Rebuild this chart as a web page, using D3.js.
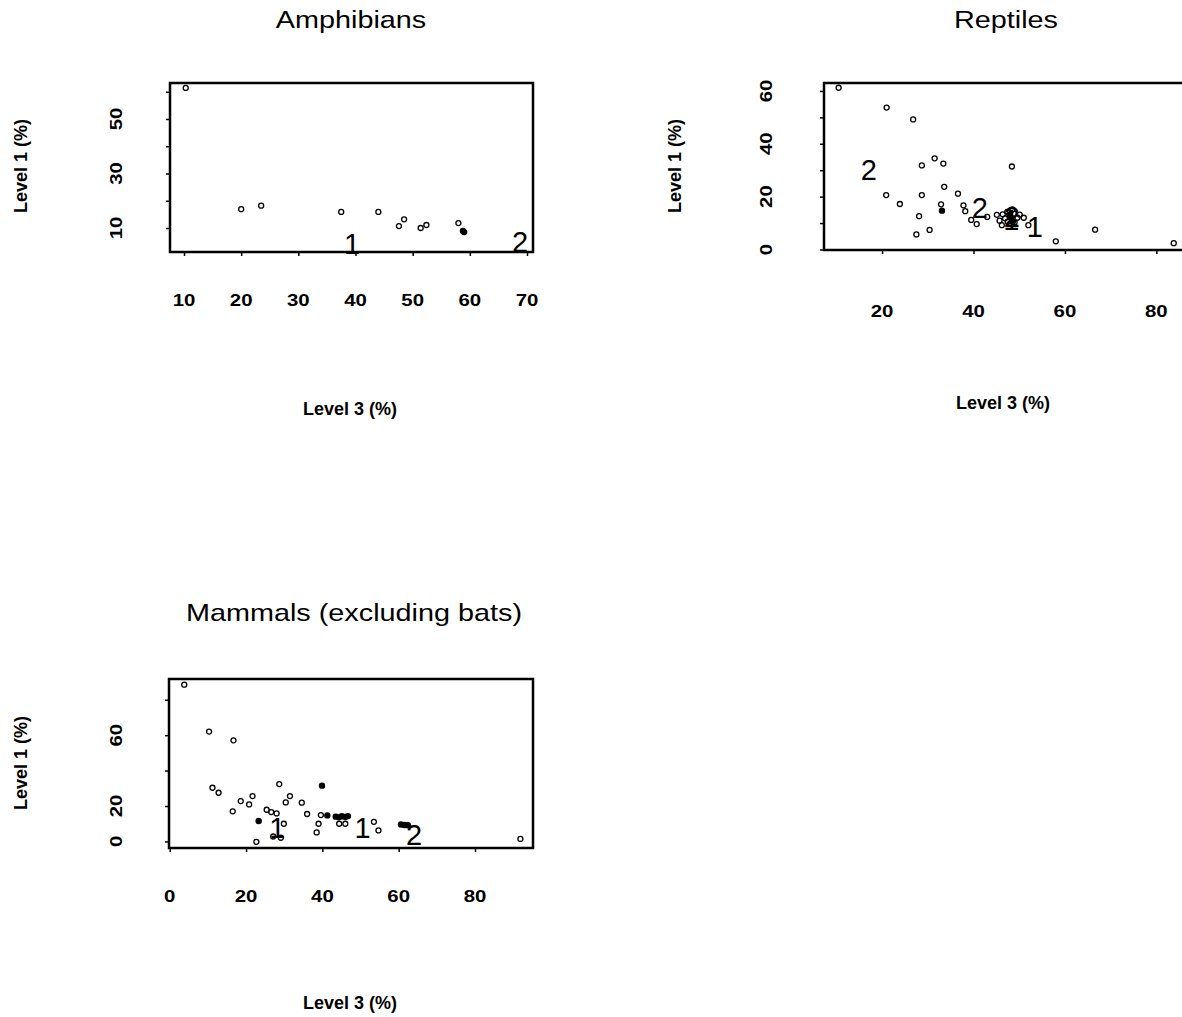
<!DOCTYPE html>
<html>
<head>
<meta charset="utf-8">
<script src="https://cdn.jsdelivr.net/npm/d3@7"></script>
<style>
  html, body { margin: 0; padding: 0; background: #fff; }
  svg { display: block; }
  text { font-family: "Liberation Sans", Arial, Helvetica, sans-serif; fill: #000; }
</style>
</head>
<body>
<svg id="chart" width="1182" height="1017"></svg>
<script>
// ---------------- DATA ----------------
// Amphibians
const amphL3 = [10.3, 20.0, 23.5, 37.5, 44.0, 47.6, 48.5, 51.4, 52.4, 58.0];
const amphL1 = [61.4, 16.9, 18.2, 15.9, 15.9, 10.7, 13.2, 10.0, 11.1, 11.8];
const amphL3Filled = [58.8, 59.0];
const amphL1Filled = [8.9, 8.5];
const amphLabelText = ["1", "2"];
const amphLabelL3 = [39.4, 68.8];
const amphLabelL1 = [4.5, 5.0];
const amphXTicks = [10, 20, 30, 40, 50, 60, 70];
const amphYTicks = [10, 20, 30, 40, 50, 60];
const amphYTickLabels = [10, 30, 50];

// Reptiles
const reptL3 = [10.5, 21.0, 26.8, 31.5, 28.7, 33.4, 48.4, 33.6, 20.9, 28.7, 36.6, 23.9, 32.9,
  37.8, 38.2, 28.1, 39.5, 40.7, 43.0, 45.1, 45.7, 46.2, 51.0, 52.0, 27.5, 30.4, 58.0, 66.6, 83.8,
  46.4, 46.9, 47.4, 47.9, 48.5, 49.0, 49.6, 50.1, 47.5, 49.0];
const reptL1 = [61.2, 53.7, 49.2, 34.5, 31.8, 32.5, 31.4, 23.7, 20.6, 20.6, 21.1, 17.2, 17.1,
  16.7, 14.5, 12.6, 11.2, 9.6, 12.3, 13.1, 10.9, 9.2, 12.0, 9.2, 5.7, 7.4, 3.1, 7.5, 2.4,
  13.3, 11.8, 14.2, 12.8, 15.2, 13.5, 12.0, 13.2, 10.5, 10.2];
const reptL3Filled = [33.1, 48.0, 48.6];
const reptL1Filled = [14.7, 12.5, 10.5];
const reptLabelText = ["2", "2", "2", "1", "1"];
const reptLabelL3 = [17.1, 41.4, 48.4, 48.3, 53.4];
const reptLabelL1 = [30.2, 15.7, 12.6, 11.2, 8.8];
const reptXTicks = [20, 40, 60, 80];
const reptYTicks = [0, 10, 20, 30, 40, 50, 60];
const reptYTickLabels = [0, 20, 40, 60];

// Mammals (excluding bats)
const mammL3 = [3.8, 10.3, 16.7, 11.2, 12.8, 16.5, 18.6, 20.8, 21.7, 22.7, 25.4, 26.6, 28.0,
  28.7, 30.4, 31.5, 29.9, 27.1, 29.1, 34.6, 36.0, 38.5, 39.0, 39.6, 44.4, 46.0, 53.5, 54.7, 91.9];
const mammL1 = [88.5, 62.0, 57.1, 30.3, 27.5, 17.0, 22.8, 20.9, 25.6, -0.2, 17.9, 16.6, 15.8,
  32.4, 22.0, 25.6, 10.0, 2.8, 2.1, 21.9, 15.5, 5.1, 10.0, 14.9, 10.0, 10.0, 11.1, 6.2, 1.4];
const mammL3Filled = [23.3, 39.9, 41.3, 43.5, 44.3, 45.1, 46.0, 46.7, 60.6, 61.5, 62.4];
const mammL1Filled = [11.5, 31.5, 14.7, 14.0, 13.6, 14.2, 13.8, 14.3, 9.6, 9.3, 9.1];
const mammLabelText = ["1", "1", "2"];
const mammLabelL3 = [28.2, 50.5, 64.0];
const mammLabelL1 = [7.6, 7.6, 3.8];
const mammXTicks = [0, 20, 40, 60, 80];
const mammYTicks = [0, 20, 40, 60, 80];
const mammYTickLabels = [0, 20, 60];

const titles = ["Amphibians", "Reptiles", "Mammals (excluding bats)"];
const xAxisTitle = "Level 3 (%)";
const yAxisTitle = "Level 1 (%)";

// ---------------- DRAW ----------------
const svg = d3.select("#chart");

const panels = [
  {
    title: titles[0],
    x: amphL3, y: amphL1, xf: amphL3Filled, yf: amphL1Filled,
    lt: amphLabelText, lx: amphLabelL3, ly: amphLabelL1,
    xTicks: amphXTicks, yTicks: amphYTicks, yTickLabels: amphYTickLabels,
    xDomain: [7.55, 71.05], yDomain: [1.2, 63.2],
    left: 170, right: 533, top: 83, bottom: 252,
    titleX: 351, titleY: 28,
    xTickLabelY: 306, yTickLabelX: 116,
    xTitleX: 350, xTitleY: 415, yTitleX: 21, yTitleY: 166
  },
  {
    title: titles[1],
    x: reptL3, y: reptL1, xf: reptL3Filled, yf: reptL1Filled,
    lt: reptLabelText, lx: reptLabelL3, ly: reptLabelL1,
    xTicks: reptXTicks, yTicks: reptYTicks, yTickLabels: reptYTickLabels,
    xDomain: [7.3, 86.7], yDomain: [-0.2, 63.0],
    left: 824, right: 1187, top: 83, bottom: 250,
    titleX: 1006, titleY: 28,
    xTickLabelY: 317, yTickLabelX: 766,
    xTitleX: 1003, xTitleY: 409, yTitleX: 675, yTitleY: 166
  },
  {
    title: titles[2],
    x: mammL3, y: mammL1, xf: mammL3Filled, yf: mammL1Filled,
    lt: mammLabelText, lx: mammLabelL3, ly: mammLabelL1,
    xTicks: mammXTicks, yTicks: mammYTicks, yTickLabels: mammYTickLabels,
    xDomain: [-0.2, 95.2], yDomain: [-3.7, 91.7],
    left: 169, right: 533, top: 679, bottom: 848,
    titleX: 354, titleY: 621,
    xTickLabelY: 902, yTickLabelX: 116,
    xTitleX: 350, xTitleY: 1009, yTitleX: 21, yTitleY: 763
  }
];

panels.forEach(p => {
  const xs = d3.scaleLinear().domain(p.xDomain).range([p.left, p.right]);
  const ys = d3.scaleLinear().domain(p.yDomain).range([p.bottom, p.top]);
  const g = svg.append("g");

  // title
  g.append("text")
    .attr("transform", `translate(${p.titleX},${p.titleY}) scale(1.2,1)`)
    .attr("text-anchor", "middle")
    .style("font-size", "24px")
    .text(p.title);

  // x axis ticks (bottom)
  const xAxis = d3.axisBottom(xs).tickValues(p.xTicks).tickSize(4).tickFormat("");
  const xa = g.append("g").attr("transform", `translate(0,${p.bottom})`).call(xAxis);
  xa.select(".domain").remove();
  xa.selectAll(".tick line").attr("stroke", "#000").attr("stroke-width", 1.5);

  // y axis ticks (left)
  const yAxis = d3.axisLeft(ys).tickValues(p.yTicks).tickSize(4).tickFormat("");
  const ya = g.append("g").attr("transform", `translate(${p.left},0)`).call(yAxis);
  ya.select(".domain").remove();
  ya.selectAll(".tick line").attr("stroke", "#000").attr("stroke-width", 1.5);

  // x tick labels
  g.selectAll(null).data(p.xTicks).enter().append("text")
    .attr("transform", d => `translate(${xs(d)},${p.xTickLabelY}) scale(1.2,1)`)
    .attr("text-anchor", "middle")
    .style("font-size", "17px").style("font-weight", "bold")
    .text(d => d);

  // y tick labels (rotated)
  g.selectAll(null).data(p.yTickLabels).enter().append("text")
    .attr("transform", d => `translate(${p.yTickLabelX + 6},${ys(d)}) rotate(-90) scale(1.2,1)`)
    .attr("text-anchor", "middle")
    .style("font-size", "17px").style("font-weight", "bold")
    .text(d => d);

  // axis titles
  g.append("text")
    .attr("x", p.xTitleX).attr("y", p.xTitleY)
    .attr("text-anchor", "middle")
    .style("font-size", "18px").style("font-weight", "bold")
    .text(xAxisTitle);
  g.append("text")
    .attr("transform", `translate(${p.yTitleX + 6},${p.yTitleY}) rotate(-90)`)
    .attr("text-anchor", "middle")
    .style("font-size", "18px").style("font-weight", "bold")
    .text(yAxisTitle);

  // box
  g.append("rect")
    .attr("x", p.left).attr("y", p.top)
    .attr("width", p.right - p.left).attr("height", p.bottom - p.top)
    .attr("fill", "none").attr("stroke", "#000").attr("stroke-width", 2.5);

  // open points
  g.selectAll(null).data(d3.range(p.x.length)).enter().append("circle")
    .attr("cx", i => xs(p.x[i])).attr("cy", i => ys(p.y[i]))
    .attr("r", 2.5).attr("fill", "none").attr("stroke", "#000").attr("stroke-width", 1.3);

  // filled points
  g.selectAll(null).data(d3.range(p.xf.length)).enter().append("circle")
    .attr("cx", i => xs(p.xf[i])).attr("cy", i => ys(p.yf[i]))
    .attr("r", 3.2).attr("fill", "#000");

  // cluster labels
  g.selectAll(null).data(d3.range(p.lt.length)).enter().append("text")
    .attr("x", i => xs(p.lx[i])).attr("y", i => ys(p.ly[i]) + 10.5)
    .attr("text-anchor", "middle")
    .style("font-size", "29px")
    .text(i => p.lt[i]);
});
</script>
</body>
</html>
